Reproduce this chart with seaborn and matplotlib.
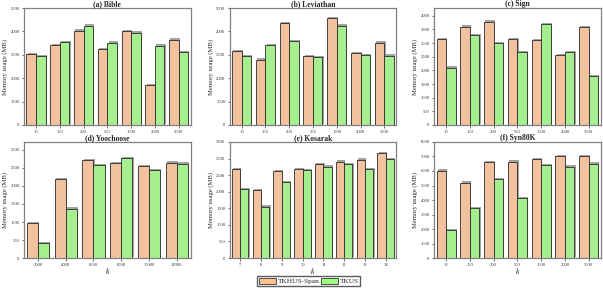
import matplotlib
matplotlib.use("Agg")
import matplotlib.pyplot as plt
import matplotlib.patheffects as pe
import seaborn as sns
import pandas as pd
from matplotlib.patches import Patch

sns.set_theme(style="white")
plt.rcParams['font.family'] = ['Liberation Serif', 'DejaVu Serif']

methods = ["TKHUS-Span", "TKUS"]

k_std = ["10", "100", "200", "500", "1000", "2000", "3000"]
k_yoo = ["2000", "4000", "6000", "8000", "10000", "12000"]
k_kos = ["7", "8", "9", "10", "11", "12", "13", "14"]

bible_span = [3040, 3400, 4040, 3250, 4000, 1700, 3650]
bible_tkus = [2950, 3530, 4250, 3520, 3950, 3390, 3100]
lev_span = [3170, 2800, 4360, 2950, 4580, 3070, 3520]
lev_tkus = [2950, 3430, 3600, 2900, 4250, 3000, 2970]
sign_span = [3150, 3600, 3780, 3130, 3110, 2570, 3570]
sign_tkus = [2100, 3300, 3000, 2680, 3690, 2680, 1800]
yoo_span = [960, 2190, 2720, 2640, 2560, 2650]
yoo_tkus = [410, 1370, 2580, 2780, 2440, 2620]
kos_span = [2680, 2040, 2610, 2680, 2840, 2910, 2970, 3160]
kos_tkus = [2070, 1550, 2280, 2650, 2760, 2840, 2690, 2990]
syn_span = [6020, 5200, 6630, 6640, 6800, 7000, 7020]
syn_tkus = [1950, 3460, 5460, 4120, 6400, 6300, 6500]

panels = [
    ("(a) Bible", k_std, bible_span, bible_tkus, 5000, [0, 1000, 2000, 3000, 4000, 5000]),
    ("(b) Leviathan", k_std, lev_span, lev_tkus, 5000, [0, 1000, 2000, 3000, 4000, 5000]),
    ("(c) Sign", k_std, sign_span, sign_tkus, 4280, list(range(0, 4001, 500))),
    ("(d) Yoochoose", k_yoo, yoo_span, yoo_tkus, 3220, list(range(0, 3001, 500))),
    ("(e) Kosarak", k_kos, kos_span, kos_tkus, 3500, list(range(0, 3501, 500))),
    ("(f) Syn80K", k_std, syn_span, syn_tkus, 8000, list(range(0, 8001, 1000))),
]

colors = {"TKHUS-Span": "#FFC08F", "TKUS": "#9EFF7E"}

fig = plt.figure(figsize=(6.03, 2.88), dpi=100)
lefts = [0.040, 0.381, 0.720]
w = 0.276
rows = [(0.566, 0.406), (0.104, 0.403)]

for i, (title, ks, span, tkus, ymax, yt) in enumerate(panels):
    r, c = divmod(i, 3)
    ax = fig.add_axes([lefts[c], rows[r][0], w, rows[r][1]])
    df = pd.DataFrame({
        "k": ks * 2,
        "Memory": span + tkus,
        "Method": [methods[0]] * len(ks) + [methods[1]] * len(ks),
    })
    sns.barplot(data=df, x="k", y="Memory", hue="Method", order=ks,
                hue_order=methods, palette=colors, edgecolor="#2a2a2a",
                linewidth=0.6, width=0.8, ax=ax, legend=False)
    for p in ax.patches:
        p.set_path_effects([pe.SimplePatchShadow(offset=(0.9, 0.9), shadow_rgbFace="#999999", alpha=0.9), pe.Normal()])
    ax.set_ylim(0, ymax)
    ax.set_yticks(yt)
    ax.set_xlim(-0.5, len(ks) - 0.5)
    ax.set_title(title, fontsize=5.5, fontweight="bold", pad=1.5)
    ax.set_ylabel("Memory usage (MB)", fontsize=4.8, labelpad=1.5)
    if r == 1:
        ax.set_xlabel("k", fontsize=5.5, style="italic", labelpad=1)
    else:
        ax.set_xlabel("")
    ax.tick_params(axis="both", labelsize=3.3, length=1.8, width=0.5, pad=1.5,
                   direction="out", left=True, bottom=True, colors="#333333")
    for s in ax.spines.values():
        s.set_visible(True)
        s.set_color("#808080")
        s.set_linewidth(0.9)

handles = [Patch(facecolor=colors[m], edgecolor="#333333", linewidth=0.6) for m in methods]
fig.legend(handles, methods, loc="center", bbox_to_anchor=(0.512, 0.024), ncol=2,
           fontsize=5.3, frameon=True, edgecolor="#333333", fancybox=False,
           handlelength=2.3, handleheight=1.0, handletextpad=0.25, columnspacing=0.2,
           borderpad=0.2, borderaxespad=0)

fig.savefig("out.png", dpi=100)
